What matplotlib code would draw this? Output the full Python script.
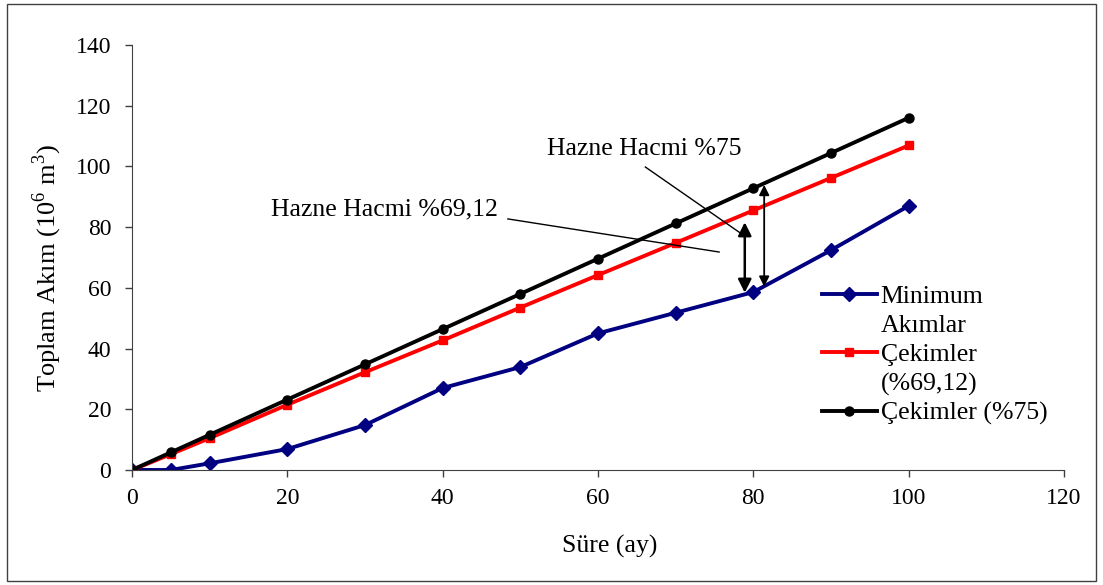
import matplotlib
matplotlib.use("Agg")
import matplotlib.pyplot as plt
from matplotlib.lines import Line2D
from matplotlib.patches import Rectangle

plt.rcParams['font.family'] = ['Liberation Serif', 'DejaVu Serif']
plt.rcParams['mathtext.fontset'] = 'custom'
plt.rcParams['mathtext.rm'] = 'Liberation Serif'

# months and cumulative volumes (10^6 m3)
sure = [0, 5, 10, 20, 30, 40, 50, 60, 70, 80, 90, 100]
min_akim = [0, 0, 2.2, 6.9, 14.8, 27, 33.9, 45, 51.8, 58.6, 72.4, 87]
cekim_6912 = [0, 5.2, 10.5, 21.5, 32.2, 42.7, 53.5, 64.2, 74.8, 85.5, 96.2, 106.9]
cekim_75 = [0, 5.8, 11.6, 23.2, 34.8, 46.4, 58, 69.6, 81.2, 92.8, 104.4, 116]
etiketler = [['Minimum', 'Akımlar'], ['Çekimler', '(%69,12)'], ['Çekimler (%75)']]

# reservoir volume arrows (x, bottom, top)
ok_6912 = (78.9, 58.4, 81.6)
ok_75 = (81.4, 60.4, 93.9)

FS = 18.5

fig = plt.figure(figsize=(11.03, 5.85), dpi=100)
ax = fig.add_axes([0.1197, 0.1966, 0.8449, 0.7265])

stiller = [dict(color='#000080', marker='D', ms=7.5),
           dict(color='#FF0000', marker='s', ms=6),
           dict(color='black', marker='o', ms=6.5)]
for seri, st in zip([min_akim, cekim_6912, cekim_75], stiller):
    ax.plot(sure, seri, lw=2.8, **st)

ax.annotate('', xy=(ok_6912[0], ok_6912[1]), xytext=(ok_6912[0], ok_6912[2]),
            arrowprops=dict(arrowstyle='<|-|>', color='black', lw=1.8, mutation_scale=20,
                            shrinkA=0, shrinkB=0))
ax.annotate('', xy=(ok_75[0], ok_75[1]), xytext=(ok_75[0], ok_75[2]),
            arrowprops=dict(arrowstyle='<|-|>', color='black', lw=1.3, mutation_scale=15,
                            shrinkA=0, shrinkB=0))

# leader lines to the labels
ax.plot([66.1, 78.7], [99.8, 77.4], color='black', lw=1)
ax.plot([48.4, 75.6], [82.7, 71.8], color='black', lw=1)
ax.text(53.4, 105.7, 'Hazne Hacmi %75', fontsize=FS, va='center', ha='left')
ax.text(17.9, 85.8, 'Hazne Hacmi %69,12', fontsize=FS, va='center', ha='left')

ax.set_xlim(0, 120)
ax.set_ylim(0, 140)
ax.set_xticks(range(0, 121, 20))
ax.set_yticks(range(0, 141, 20))
ax.tick_params(labelsize=17, direction='out', length=5, width=1, color='#404040')
ax.tick_params(axis='y', pad=10)
ax.tick_params(axis='x', pad=8)
for s in ['top', 'right']:
    ax.spines[s].set_visible(False)
for s in ['left', 'bottom']:
    ax.spines[s].set_color('#404040')
ax.set_xlabel('Süre (ay)', fontsize=FS)
ax.set_ylabel('Toplam Akım (10$^6$ m$^3$)', fontsize=19)
ax.xaxis.set_label_coords(0.513, -0.152)
ax.yaxis.set_label_coords(-0.073, 0.475)

# legend: first line of each label carries the handle, wrapped lines get none
handles, labels = [], []
for st, satirlar in zip(stiller, etiketler):
    handles.append(Line2D([], [], lw=2.8, **st))
    labels.append(satirlar[0])
    for s in satirlar[1:]:
        handles.append(Line2D([], [], lw=0))
        labels.append(s)
ax.legend(handles, labels, loc='upper left', bbox_to_anchor=(0.74, 0.436), frameon=False,
          fontsize=FS, handlelength=2.15, handletextpad=0.15,
          labelspacing=0.24, borderaxespad=0, borderpad=0)

fig.patches.append(Rectangle((0.006, 0.006), 0.988, 0.988, transform=fig.transFigure,
                             fill=False, edgecolor='#404040', lw=1))

fig.savefig('out.png', dpi=100)
